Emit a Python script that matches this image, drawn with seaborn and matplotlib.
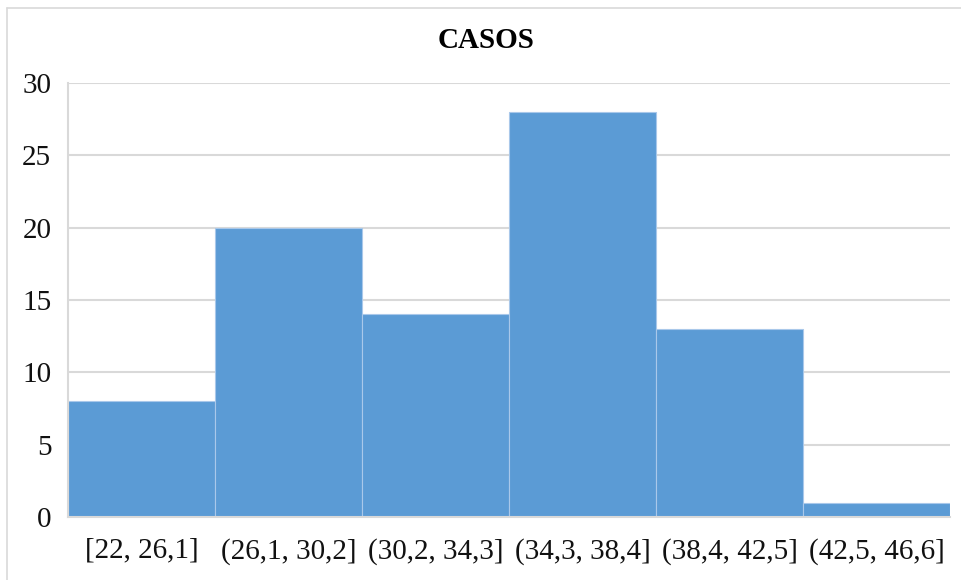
import pandas as pd
import matplotlib.pyplot as plt
import seaborn as sns
from matplotlib.lines import Line2D

intervals = ['[22, 26,1]', '(26,1, 30,2]', '(30,2, 34,3]', '(34,3, 38,4]', '(38,4, 42,5]', '(42,5, 46,6]']
casos = [8, 20, 14, 28, 13, 1]


def plot_casos(df):
    sns.set_style('white')
    plt.rcParams['font.family'] = ['Liberation Serif', 'DejaVu Serif']
    fig = plt.figure(figsize=(9.61, 5.8), dpi=100)
    ax = fig.add_axes([0.0708, 0.1086, 0.9180, 0.7483])
    sns.barplot(x='Intervalo', y='Casos', data=df, ax=ax, color='#5B9BD5',
                saturation=1, width=1.0, edgecolor='#a9c8ea', linewidth=0.8, zorder=2)
    ax.set_ylim(0, 30)
    ax.set_xlim(-0.5, len(df) - 0.5)
    ax.set_yticks(range(0, 31, 5))
    ax.yaxis.grid(True, color='#d9d9d9', linewidth=1.5, zorder=0)
    ax.set_axisbelow(True)
    for side in ['top', 'right']:
        ax.spines[side].set_visible(False)
    for side in ['left', 'bottom']:
        ax.spines[side].set_color('#d9d9d9')
        ax.spines[side].set_linewidth(1.5)
    ax.tick_params(axis='y', labelsize=21, pad=12, length=0, colors='#111111')
    ax.tick_params(axis='x', labelsize=21, pad=15, length=0, colors='#111111')
    ax.set_xlabel('')
    ax.set_ylabel('')
    fig.text(0.506, 0.93, 'CASOS', ha='center', va='center', fontsize=21,
             fontweight='bold', color='#000000')
    # chart frame (left and top edges)
    fig.add_artist(Line2D([7 / 961, 7 / 961], [0, 1 - 8 / 580], color='#d9d9d9', linewidth=1.2))
    fig.add_artist(Line2D([7 / 961, 1], [1 - 8 / 580, 1 - 8 / 580], color='#d9d9d9', linewidth=1.2))
    fig.savefig('out.png', dpi=100)


if __name__ == "__main__":
    data = pd.DataFrame({'Intervalo': intervals, 'Casos': casos})
    plot_casos(data)
